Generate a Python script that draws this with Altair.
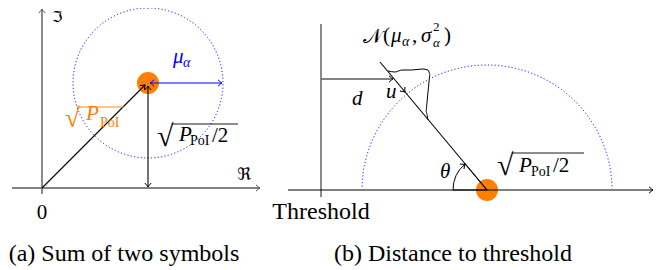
import math
import altair as alt
import pandas as pd

# ---------------- diagram geometry (1 unit = 1 px of the figure) ----------------
W, H = 651, 262
XDOM = [8, 8 + W]
YDOM = [8, 8 + H]

# straight segments: x1, y1, x2, y2
gray_lines = [
    (12, 188, 260, 188),   # Re axis (a)
    (42, 194, 42, 9),      # Im axis (a)
    (321, 24, 321, 197),   # threshold (b)
    (321, 79, 392, 79),    # distance d (b)
]
black_lines = [
    (42, 188, 145, 85),    # sqrt(P_PoI) vector (a)
    (148, 86, 148, 187),   # sqrt(P_PoI/2) height (a)
    (288, 190, 653, 190),  # axis (b)
    (487, 190, 380, 62),   # direction u (b)
]
blue_lines = [(150, 83, 222, 83)]          # mu_alpha (a)
orange_bars = [(77, 107, 124, 107)]        # radical bar sqrt(P_PoI)
black_bars = [(172, 124, 238, 124), (512, 153, 584, 153)]
mask_lines = [(355, 190, 620, 190)]        # hides the diameter of the half circle

# arrow heads: tip x, tip y, direction (deg, clockwise from +x)
heads_gray = [(260, 188, 0), (42, 9, 270)]
heads_black = [(145, 85, 315), (148, 86, 270), (148, 187, 90), (653, 190, 0),
               (393, 79, 0), (405, 92, 50), (465, 164, 320)]
heads_blue = [(150, 83, 180), (222, 83, 0)]

# circle centres
circle_a = [(148, 83)]
semicircle_b = [(487, 190)]
theta_arc = [(487, 190)]

# orange symbols
dots = [(148, 83), (487, 190)]

# Gaussian bump drawn along the direction u
gauss_x = [388, 395, 402, 412, 422, 428, 430, 429, 428, 427, 426, 428]
gauss_y = [71, 72, 70, 70, 69, 70, 74, 82, 92, 102, 112, 120]

# texts: left x, baseline y, text, size, colour
txt_upright = [
    (65, 127, "√", 27, "#ff8000"),
    (100, 127, "PoI", 14, "#ff8000"),
    (157, 146, "√", 30, "black"),
    (190, 145, "PoI", 14, "black"),
    (212, 142, "/2", 21, "black"),
    (383, 42, "(", 21, "black"),
    (412, 42, ",", 21, "black"),
    (433, 31, "2", 13, "black"),
    (444, 42, ")", 21, "black"),
    (497, 175, "√", 30, "black"),
    (531, 176, "PoI", 14, "black"),
    (553, 172, "/2", 21, "black"),
]
txt_italic = [
    (173, 63, "μ", 21, "#0000ff"),
    (183, 67, "α", 14, "#0000ff"),
    (86, 120, "P", 21, "#ff8000"),
    (179, 141, "P", 21, "black"),
    (391, 42, "μ", 21, "black"),
    (402, 46, "α", 14, "black"),
    (421, 42, "σ", 21, "black"),
    (433, 47, "α", 13, "black"),
    (519, 172, "P", 21, "black"),
    (352, 105, "d", 21, "black"),
    (386, 98, "u", 21, "black"),
    (440, 178, "θ", 21, "black"),
]
txt_symbols = [
    (52, 22, "ℑ", 15, "black"),
    (237, 180, "ℜ", 17, "black"),
    (363, 43, "𝒩", 20, "black"),
]
txt_center = [
    (42, 219, "0", 21, "black"),
    (321, 219, "Threshold", 24, "black"),
    (124, 261, "(a) Sum of two symbols", 24, "black"),
    (453, 261, "(b) Distance to threshold", 24, "black"),
]

# ---------------- helpers ----------------
xs = alt.Scale(domain=XDOM, nice=False, zero=False)
ys = alt.Scale(domain=YDOM, nice=False, zero=False, reverse=True)


def X(f="x"):
    return alt.X(f"{f}:Q", scale=xs, axis=None)


def Y(f="y"):
    return alt.Y(f"{f}:Q", scale=ys, axis=None)


def segs(rows, color, width):
    df = pd.DataFrame(rows, columns=["x", "y", "x2", "y2"])
    return alt.Chart(df).mark_rule(color=color, strokeWidth=width).encode(
        x=X(), y=Y(), x2="x2:Q", y2="y2:Q")


HEAD = "M-2,-1.6 Q-0.7,-0.4 0,0 Q-0.7,0.4 -2,1.6"


def heads(rows, color):
    df = pd.DataFrame(rows, columns=["x", "y", "a"])
    return alt.Chart(df).mark_point(shape=HEAD, size=16, filled=False,
                                    stroke=color, strokeWidth=1, opacity=1).encode(
        x=X(), y=Y(), angle=alt.Angle("a:Q", scale=None))


def arc(rows, r, t0, t1, color, dash, width):
    df = pd.DataFrame(rows, columns=["x", "y"])
    kw = dict(radius=r, theta=t0, theta2=t1, stroke=color, strokeWidth=width,
              fillOpacity=0, fill="white")
    if dash:
        kw["strokeDash"] = dash
    return alt.Chart(df).mark_arc(**kw).encode(x=X(), y=Y())


def texts(rows, font, style="normal", align="left"):
    df = pd.DataFrame(rows, columns=["x", "y", "t", "s", "c"])
    return alt.Chart(df).mark_text(font=font, fontStyle=style, align=align,
                                   baseline="alphabetic").encode(
        x=X(), y=Y(), text="t:N",
        size=alt.Size("s:Q", scale=None),
        color=alt.Color("c:N", scale=None))


SERIF = "Liberation Serif"

layers = [
    arc(circle_a, 75, 0, 2 * math.pi, "#0000ff", [1.1, 2.3], 1),
    arc(semicircle_b, 125, 1.5 * math.pi, 2.5 * math.pi, "#0000ff", [1.1, 2.3], 1),
    segs(mask_lines, "white", 3),
    alt.Chart(pd.DataFrame(dots, columns=["x", "y"])).mark_circle(
        size=484, color="#ff8000", opacity=1).encode(x=X(), y=Y()),
    arc(theta_arc, 34, 1.5 * math.pi, 1.5 * math.pi + math.radians(50), "black", None, 1),
    segs(gray_lines, "#5a5a5a", 1.4),
    segs(black_lines, "black", 1.1),
    segs(blue_lines, "#0000ff", 1.1),
    segs(orange_bars, "#ff8000", 0.9),
    segs(black_bars, "black", 0.9),
    heads(heads_gray, "#5a5a5a"),
    heads(heads_black, "black"),
    heads(heads_blue, "#0000ff"),
    alt.Chart(pd.DataFrame({"x": gauss_x, "y": gauss_y, "o": range(len(gauss_x))}))
    .mark_line(color="black", strokeWidth=1, interpolate="monotone").encode(
        x=X(), y=Y(), order="o:Q"),
    texts(txt_upright, SERIF),
    texts(txt_italic, SERIF, "italic"),
    texts(txt_symbols, "DejaVu Serif, DejaVu Sans, Noto Sans"),
    texts(txt_center, SERIF, align="center"),
]

chart = alt.layer(*layers).properties(
    width=W, height=H, padding=0,
    autosize=alt.AutoSizeParams(type="none"),
).configure_view(stroke=None)

chart.save("out.html", embed_options={"renderer": "svg", "actions": False})
